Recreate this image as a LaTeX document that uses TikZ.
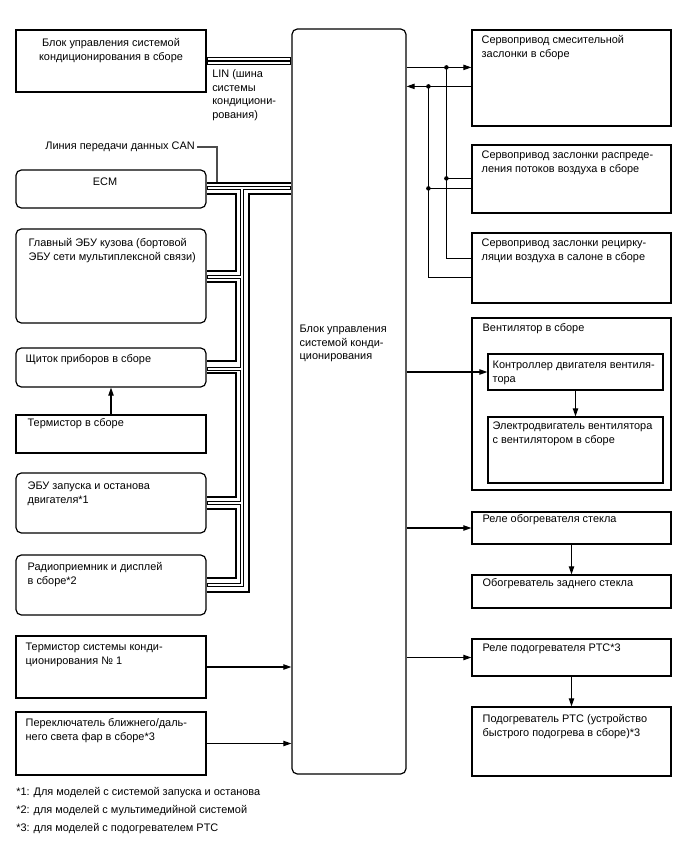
\documentclass[tikz,border=0pt]{standalone}
\usepackage{fontspec}
\setmainfont{Liberation Sans}
\usetikzlibrary{arrows.meta,fit}

\begin{document}
\begin{tikzpicture}[x=0.75pt,y=-0.75pt]
    \tikzstyle{blk}=[draw, line width=0.9pt, inner sep=0pt]
    \tikzstyle{rblk}=[blk, rounded corners=4pt]
    \tikzstyle{txt}=[anchor=north west, inner sep=0pt, align=left, font=\fontsize{8.2}{10.4}\selectfont]
    \tikzstyle{wire}=[line width=0.8pt]
    \tikzstyle{arr}=[wire, -{Triangle[length=6pt,width=4pt]}]
    \tikzstyle{canh}=[line width=2.1pt]
    \tikzstyle{canlo}=[line width=3.2pt]
    \tikzstyle{canli}=[line width=1.6pt, white, shorten <=0.7pt, shorten >=0.7pt]

    \useasboundingbox (0,0) rectangle (688,852);

    % left column
    \node[blk, fit={(16,30) (206,92)}] (acu) {};
    \node[rblk, fit={(16,170) (206,208)}] (ecm) {};
    \node[rblk, fit={(16,229) (206,323)}] (bcm) {};
    \node[rblk, fit={(16,348) (206,387)}] (cmb) {};
    \node[blk, fit={(16,415) (206,453)}] (ths) {};
    \node[rblk, fit={(16,473) (206,533)}] (eco) {};
    \node[rblk, fit={(16,555) (206,615)}] (rad) {};
    \node[blk, fit={(16,636) (206,698)}] (th1) {};
    \node[blk, fit={(16,712) (206,775)}] (hsw) {};

    % a/c amplifier
    \node[rblk, fit={(292,29) (406,774)}] (amp) {};

    % right column
    \node[blk, fit={(472,30) (671,126)}] (sv1) {};
    \node[blk, fit={(472,145) (671,213)}] (sv2) {};
    \node[blk, fit={(472,233) (671,303)}] (sv3) {};
    \node[blk, fit={(472,318) (671,490)}] (fan) {};
    \node[blk, fit={(488,354) (663,390)}] (ctl) {};
    \node[blk, fit={(488,417) (663,483)}] (mot) {};
    \node[blk, fit={(472,512) (671,544)}] (rly) {};
    \node[blk, fit={(472,575) (671,608)}] (rwh) {};
    \node[blk, fit={(472,639) (671,676)}] (ptr) {};
    \node[blk, fit={(472,707) (671,776)}] (pth) {};

    % texts
    \node[txt, anchor=north, align=center] (acut) at ([shift={(0,9)}]acu.north) {Блок управления системой\\кондиционирования в сборе};
    \node[txt, anchor=north] (ecmt) at ([shift={(-6,8)}]ecm.north) {ECM};
    \node[txt] (bcmt) at ([shift={(13,10)}]bcm.north west) {Главный ЭБУ кузова (бортовой\\ЭБУ сети мультиплексной связи)};
    \node[txt] (cmbt) at ([shift={(10,7)}]cmb.north west) {Щиток приборов в сборе};
    \node[txt] (thst) at ([shift={(12,4)}]ths.north west) {Термистор в сборе};
    \node[txt] (ecot) at ([shift={(12,9)}]eco.north west) {ЭБУ запуска и останова\\двигателя*1};
    \node[txt] (radt) at ([shift={(12,8)}]rad.north west) {Радиоприемник и дисплей\\в сборе*2};
    \node[txt] (th1t) at ([shift={(10,7)}]th1.north west) {Термистор системы конди-\\ционирования № 1};
    \node[txt] (hswt) at ([shift={(10,7)}]hsw.north west) {Переключатель ближнего/даль-\\него света фар в сборе*3};
    \node[txt] (ampt) at ([shift={(8,296)}]amp.north west) {Блок управления\\системой конди-\\ционирования};
    \node[txt] (sv1t) at ([shift={(10,6)}]sv1.north west) {Сервопривод смесительной\\заслонки в сборе};
    \node[txt] (sv2t) at ([shift={(10,6)}]sv2.north west) {Сервопривод заслонки распреде-\\ления потоков воздуха в сборе};
    \node[txt] (sv3t) at ([shift={(10,6)}]sv3.north west) {Сервопривод заслонки рецирку-\\ляции воздуха в салоне в сборе};
    \node[txt] (fant) at ([shift={(11,6)}]fan.north west) {Вентилятор в сборе};
    \node[txt] (ctlt) at ([shift={(5,7)}]ctl.north west) {Контроллер двигателя вентиля-\\тора};
    \node[txt] (mott) at ([shift={(5,5)}]mot.north west) {Электродвигатель вентилятора\\с вентилятором в сборе};
    \node[txt] (rlyt) at ([shift={(11,3)}]rly.north west) {Реле обогревателя стекла};
    \node[txt] (rwht) at ([shift={(11,4)}]rwh.north west) {Обогреватель заднего стекла};
    \node[txt] (ptrt) at ([shift={(11,5)}]ptr.north west) {Реле подогревателя PTC*3};
    \node[txt] (ptht) at ([shift={(11,8)}]pth.north west) {Подогреватель PTC (устройство\\быстрого подогрева в сборе)*3};

    \node[txt] (lint) at (212,69) {LIN (шина\\системы\\кондициони-\\рования)};
    \node[txt, anchor=east] (cant) at (195,147) {Линия передачи данных CAN};

    \node[txt, anchor=west] (fn1) at (16,793) {*1: Для моделей с системой запуска и останова};
    \node[txt, anchor=west] (fn2) at (16,811) {*2: для моделей с мультимедийной системой};
    \node[txt, anchor=west] (fn3) at (16,829) {*3: для моделей с подогревателем PTC};

    % LIN
    \draw[line width=6.4pt] (acu.east) -- (acu.east -| amp.west);
    \draw[line width=4.9pt, white, shorten <=0.7pt, shorten >=0.7pt] (acu.east) -- (acu.east -| amp.west);
    \draw[line width=2pt] (acu.east) -- (acu.east -| amp.west);

    % CAN
    \coordinate (ci) at (236,0);
    \coordinate (cl) at (242,188);
    \coordinate (co) at (249,0);
    \foreach \s in {canlo,canli} {
        \draw[\s] (ecm.east |- cl) -- (amp.west |- cl);
        \draw[\s] (rad.east |- 0,585) -| (cl);
        \foreach \y in {277,369,503}
            \draw[\s] (ecm.east |- 0,\y) -- (cl |- 0,\y);
    }
    \draw[canh] (ecm.east |- 0,183) -- (amp.west |- 0,183);
    \foreach \u/\a/\v/\b in {ecm/194/bcm/271,bcm/282/cmb/361,cmb/373/eco/497,eco/509/rad/578}
        \draw[canh] (\u.east |- 0,\a) -| (ci |- 0,\b) -- (\v.east |- 0,\b);
    \draw[canh] (rad.east |- 0,592) -| (co |- 0,194) -- (amp.west |- 0,194);

    \coordinate (canp) at (217,182);
    \draw[wire, gray!60!black] ([xshift=1.5pt]cant.east) -| (canp);

    % servo motors
    \coordinate (m1) at ([shift={(0,38)}]sv1.north west);
    \coordinate (m2) at ([shift={(0,57)}]sv1.north west);
    \coordinate (ja) at ([shift={(-25,0)}]m1);
    \coordinate (jb) at ([shift={(-43,0)}]m2);
    \coordinate (s2a) at ([shift={(0,34)}]sv2.north west);
    \coordinate (s2b) at ([shift={(0,44)}]sv2.north west);
    \coordinate (jc) at (ja |- s2a);
    \coordinate (jd) at (jb |- s2b);
    \draw[arr] (m1 -| amp.east) -- (m1);
    \draw[arr] (m2) -- (m2 -| amp.east);
    \draw[wire] (ja) |- ([shift={(0,26)}]sv3.north west);
    \draw[wire] (jb) |- ([shift={(0,45)}]sv3.north west);
    \draw[wire] (jc) -- (s2a);
    \draw[wire] (jd) -- (s2b);
    \foreach \p in {ja,jb,jc,jd}
        \fill (\p) circle (1.7pt);

    \draw[arr] (ctl.west -| amp.east) -- (ctl.west);
    \draw[arr] (ctl.south) -- (mot.north);
    \draw[arr] (rly.west -| amp.east) -- (rly.west);
    \draw[arr] (rly.south) -- (rwh.north);
    \draw[arr] (ptr.west -| amp.east) -- (ptr.west);
    \draw[arr] (ptr.south) -- (pth.north);

    \draw[arr] (th1.east) -- (th1.east -| amp.west);
    \draw[arr] (hsw.east) -- (hsw.east -| amp.west);
    \draw[arr] (ths.north) -- (cmb.south);
\end{tikzpicture}
\end{document}
